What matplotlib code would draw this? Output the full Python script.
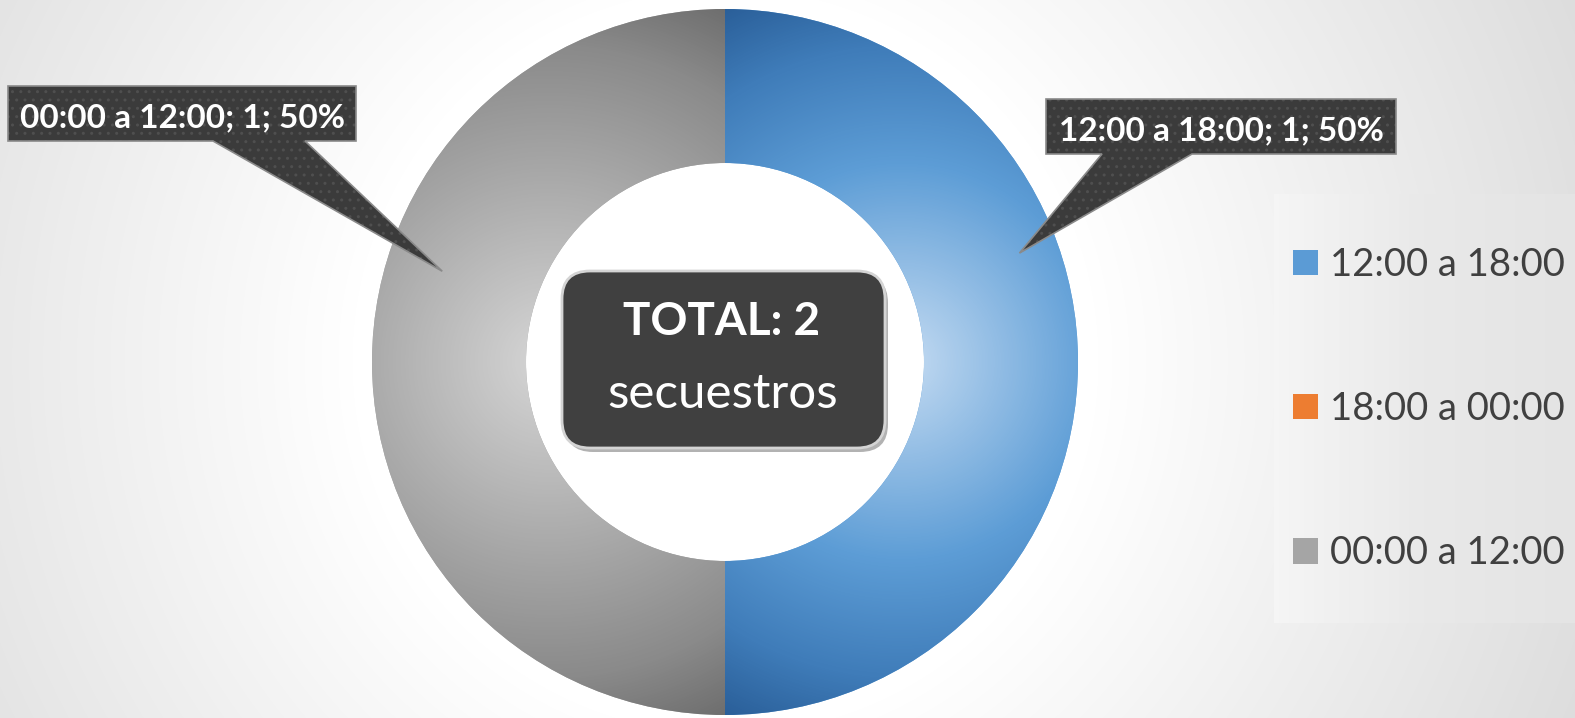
import numpy as np
import matplotlib.pyplot as plt
from matplotlib.colors import LinearSegmentedColormap
from matplotlib.patches import Polygon, FancyBboxPatch, Patch

plt.rcParams['font.family'] = ['Lato', 'DejaVu Sans']

# data
franjas = ['12:00 a 18:00', '18:00 a 00:00', '00:00 a 12:00']
secuestros = [1, 0, 1]
colores = ['#5b9bd5', '#ed7d31', '#a5a5a5']
total = sum(secuestros)

W, H = 1575, 718
fig = plt.figure(figsize=(W / 100, H / 100), dpi=100)
ax = fig.add_axes([0, 0, 1, 1])

yy, xx = np.mgrid[0:H, 0:W]
cx, cy = 725, 356
R, r_in = 353, 199

# background: white around the ring, grey towards the corners
d = np.hypot(xx - cx, yy - cy)
bg = np.clip((d - 370) / 720, 0, 1)
bg_cmap = LinearSegmentedColormap.from_list('bg', ['#ffffff', '#d3d3d3'])
ax.imshow(bg, cmap=bg_cmap, extent=[0, W, 0, H], origin='lower', vmin=0, vmax=1, zorder=0)

# legend panel
panel = np.tile(np.linspace(0, 1, 60), (10, 1))
panel_cmap = LinearSegmentedColormap.from_list('pn', ['#f5f5f5', '#e9e9e9', '#e4e4e4'])
ax.imshow(panel, cmap=panel_cmap, extent=[1274, W, H - 623, H - 194], origin='lower',
          aspect='auto', zorder=1)

# donut
wedges, _ = ax.pie(secuestros, colors=colores, startangle=90, counterclock=False,
                   radius=R, center=(cx, cy),
                   wedgeprops=dict(width=R - r_in, linewidth=0, zorder=2))

# radial gradient from the centre of each slice's box (distance in slice widths)
gradientes = {
    0: [(0, '#c4dbf2'), (0.5, '#5d9dd6'), (0.8, '#3f7cb9'), (1, '#2a5f99')],
    2: [(0, '#d6d6d6'), (0.5, '#a6a6a6'), (0.8, '#8a8a8a'), (1, '#6e6e6e')],
}
for i, w in enumerate(wedges):
    if secuestros[i] == 0:
        continue
    bb = w.get_path().get_extents()
    dist = np.hypot(xx - (bb.x0 + bb.x1) / 2, yy - (bb.y0 + bb.y1) / 2)
    t = np.clip(dist / (1.12 * bb.width), 0, 1)
    cmap = LinearSegmentedColormap.from_list('g%d' % i, gradientes[i])
    im = ax.imshow(t, cmap=cmap, extent=[0, W, 0, H], origin='lower', vmin=0, vmax=1, zorder=3)
    im.set_clip_path(w)

# center box
sombra = FancyBboxPatch((565, H - 452), 885 - 562, 448 - 271,
                        boxstyle='round,pad=0,rounding_size=28',
                        fc='#000000', ec='none', alpha=0.3, zorder=5)
caja = FancyBboxPatch((562, H - 448), 885 - 562, 448 - 271,
                      boxstyle='round,pad=0,rounding_size=28',
                      fc='#404040', ec='#d4d4d4', lw=2, zorder=6)
ax.add_patch(sombra)
ax.add_patch(caja)
ax.text(722, H - 335, f'TOTAL: {total}', ha='center', va='baseline', fontsize=33,
        fontweight='bold', color='white', zorder=7)
ax.text(723, H - 408, 'secuestros', ha='center', va='baseline', fontsize=35.5,
        color='white', zorder=7)

# callouts: box (x0, top, x1, bottom) in pixels, pointer base, tip as (angle, radius)
callouts = {
    2: dict(box=(8, 86, 356, 141), base=(213, 305), tip=(162.2, 297)),
    0: dict(box=(1046, 99, 1396, 154), base=(1192, 1102), tip=(20.3, 314)),
}
for i, c in callouts.items():
    x0, top, x1, bot = c['box']
    y0, y1 = H - bot, H - top
    ang, rr = c['tip']
    tx = cx + rr * np.cos(np.radians(ang))
    ty = cy + rr * np.sin(np.radians(ang))
    b1, b2 = c['base']
    pts = [(x0, y1), (x1, y1), (x1, y0), (max(b1, b2), y0), (tx, ty), (min(b1, b2), y0), (x0, y0)]
    ax.add_patch(Polygon(pts, closed=True, fc='#3b3b3b', ec='#4f4f4f', hatch='..', lw=0, zorder=8))
    ax.add_patch(Polygon(pts, closed=True, fc='none', ec='#8a8a8a', lw=1.2, zorder=9))
    pct = 100 * secuestros[i] / total
    ax.text((x0 + x1) / 2, (y0 + y1) / 2 - 13.5, f'{franjas[i]}; {secuestros[i]}; {pct:.0f}%',
            ha='center', va='baseline', fontsize=24, fontweight='bold', color='white', zorder=10)

# legend
handles = [Patch(facecolor=c, edgecolor='none') for c in colores]
ax.legend(handles, franjas, loc='center left', bbox_to_anchor=(1293 / W, 1 - 409 / H),
          frameon=False, borderpad=0, borderaxespad=0, fontsize=27.5, labelcolor='#404040',
          handlelength=0.66, handleheight=0.66, handletextpad=0.3, labelspacing=2.83)

ax.set_xlim(0, W)
ax.set_ylim(0, H)
ax.axis('off')
fig.savefig('out.png', dpi=100)
